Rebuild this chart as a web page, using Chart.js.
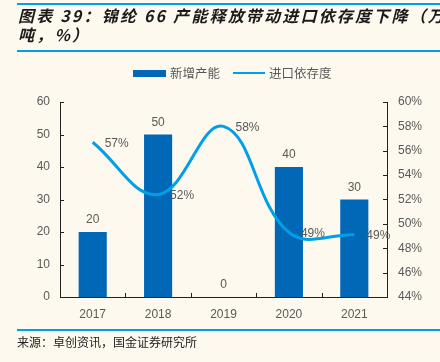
<!DOCTYPE html>
<html>
<head>
<meta charset="utf-8">
<script src="https://cdn.jsdelivr.net/npm/chart.js@4/dist/chart.umd.min.js"></script>
<style>
  html, body { margin: 0; padding: 0; }
  body { width: 440px; height: 362px; background: #fdf9ef; position: relative; overflow: hidden; font-family: "Liberation Sans", "Noto Sans CJK SC", sans-serif; }
  #chartWrap { position: absolute; left: 0; top: 0; width: 440px; height: 362px; }
  .rule { position: absolute; left: 17px; right: 0; height: 2px; background: #00a0e9; }
  .title { position: absolute; left: 18px; top: 6px; width: 422px; font-family: "Noto Sans CJK SC", sans-serif; font-size: 16px; font-weight: bold; font-style: italic; color: #1a1a1a; line-height: 19px; letter-spacing: 2.2px; white-space: nowrap; overflow: hidden; }
  .legend { position: absolute; top: 64px; left: 0; width: 440px; height: 18px; font-family: "Noto Sans CJK SC", sans-serif; font-size: 12.5px; color: #595959; }
  .legend span { position: absolute; top: 0; line-height: 18px; }
  .sw { position: absolute; }
  .source { position: absolute; left: 17px; top: 333px; font-family: "Noto Sans CJK SC", sans-serif; font-size: 12px; color: #222; white-space: nowrap; }
</style>
</head>
<body>
<div id="chartWrap"><canvas id="c" width="440" height="362"></canvas></div>
<div class="rule" style="top:3px;"></div>
<div class="title">图表 39：锦纶 66 产能释放带动进口依存度下降（万<br>吨，%）</div>
<div class="rule" style="top:50px;"></div>
<div class="legend">
  <div class="sw" style="left:133px; top:6px; width:33px; height:7px; background:#0068b7;"></div>
  <span id="lg1" style="left:170px;"></span>
  <div class="sw" style="left:233px; top:8px; width:32px; height:2px; background:#00a0e9;"></div>
  <span id="lg2" style="left:269px;"></span>
</div>
<div class="rule" style="top:329px;"></div>
<div class="source">来源：卓创资讯，国金证券研究所</div>
<script>
const categories = ['2017', '2018', '2019', '2020', '2021'];
const capacityLabel = '新增产能';
const dependenceLabel = '进口依存度';
const newCapacity = [20, 50, 0, 40, 30];
const importDependence = [0.567, 0.524, 0.580, 0.493, 0.491];
const leftTicks = [0, 60, 10];
const rightTicks = [0.44, 0.60, 0.02];

document.getElementById('lg1').textContent = capacityLabel;
document.getElementById('lg2').textContent = dependenceLabel;

const labelColor = '#595959';
const numFont = { family: '"Liberation Sans", Arial, sans-serif', size: 12 };

const innerTicks = {
  id: 'innerTicks',
  afterDatasetsDraw(chart) {
    const ctx = chart.ctx;
    const x = chart.scales.x, y = chart.scales.y, y1 = chart.scales.y1;
    const area = chart.chartArea;
    ctx.save();
    ctx.strokeStyle = '#222';
    ctx.lineWidth = 1;
    ctx.beginPath();
    y.ticks.forEach(t => {
      const py = Math.round(y.getPixelForValue(t.value)) + 0.5;
      ctx.moveTo(area.left, py); ctx.lineTo(area.left + 4, py);
    });
    y1.ticks.forEach(t => {
      const py = Math.round(y1.getPixelForValue(t.value)) + 0.5;
      ctx.moveTo(area.right - 4, py); ctx.lineTo(area.right, py);
    });
    for (let i = 1; i < categories.length; i++) {
      const px = Math.round((x.getPixelForValue(i - 1) + x.getPixelForValue(i)) / 2) + 0.5;
      ctx.moveTo(px, area.bottom); ctx.lineTo(px, area.bottom - 4);
    }
    ctx.stroke();

    ctx.font = numFont.size + 'px ' + numFont.family;
    ctx.fillStyle = labelColor;
    const barMeta = chart.getDatasetMeta(0);
    ctx.textAlign = 'center';
    ctx.textBaseline = 'bottom';
    barMeta.data.forEach((el, i) => {
      ctx.fillText(String(newCapacity[i]), el.x, el.y - 6);
    });
    const lineMeta = chart.getDatasetMeta(1);
    ctx.textAlign = 'left';
    ctx.textBaseline = 'middle';
    lineMeta.data.forEach((el, i) => {
      ctx.fillText(Math.round(importDependence[i] * 100) + '%', el.x + 12, el.y + 1);
    });
    ctx.restore();
  }
};

new Chart(document.getElementById('c'), {
  data: {
    labels: categories,
    datasets: [
      {
        type: 'bar',
        label: capacityLabel,
        data: newCapacity,
        backgroundColor: '#0068b7',
        yAxisID: 'y',
        barPercentage: 0.43,
        categoryPercentage: 1,
        order: 1
      },
      {
        type: 'line',
        label: dependenceLabel,
        data: importDependence,
        borderColor: '#00a0e9',
        borderWidth: 3,
        pointRadius: 0,
        tension: 0.4,
        fill: false,
        yAxisID: 'y1',
        order: 0
      }
    ]
  },
  options: {
    responsive: false,
    animation: false,
    layout: { padding: { top: 102, bottom: 35, left: 0, right: 0 } },
    plugins: { legend: { display: false }, tooltip: { enabled: false } },
    scales: {
      x: {
        grid: { display: false, drawTicks: false },
        border: { display: true, color: '#222', width: 1 },
        ticks: { color: labelColor, font: numFont, padding: 10 },
        afterFit(s) { s.height = 30; }
      },
      y: {
        position: 'left',
        min: leftTicks[0], max: leftTicks[1],
        grid: { display: false, drawTicks: false },
        border: { display: true, color: '#222', width: 1 },
        ticks: { stepSize: leftTicks[2], color: labelColor, font: numFont, padding: 10 },
        afterFit(s) { s.width = 60; }
      },
      y1: {
        position: 'right',
        min: rightTicks[0], max: rightTicks[1],
        grid: { display: false, drawTicks: false },
        border: { display: true, color: '#222', width: 1 },
        ticks: { stepSize: rightTicks[2], color: labelColor, font: numFont, padding: 11,
                 callback: v => Math.round(v * 100) + '%' },
        afterFit(s) { s.width = 53; }
      }
    }
  },
  plugins: [innerTicks]
});
</script>
</body>
</html>
